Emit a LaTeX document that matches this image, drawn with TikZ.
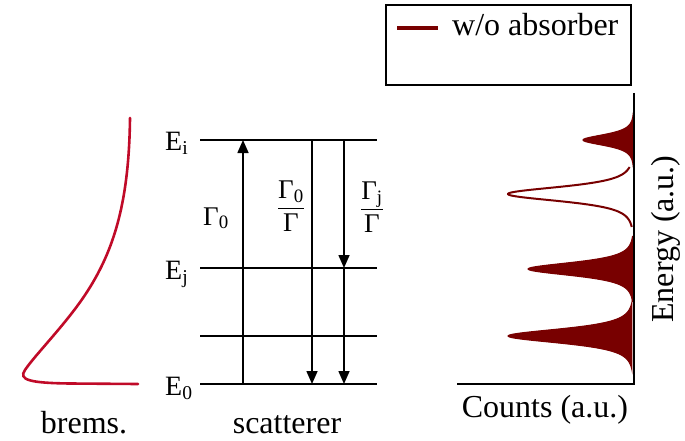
\documentclass[tikz,border=0pt]{standalone}
\usepackage{fontspec}
\setmainfont{Liberation Serif}
\usetikzlibrary{arrows.meta}
\definecolor{brem}{HTML}{C00A28}
\definecolor{spec}{HTML}{780000}
\newcommand{\gfrac}[2]{\setlength{\arrayrulewidth}{1.2pt}\renewcommand{\arraystretch}{1}\begin{tabular}{@{}c@{}}#1\\[0pt]\hline\rule{0pt}{22pt}#2\end{tabular}}
\begin{document}
\begin{tikzpicture}[x=1pt,y=-1pt,
  lbl/.style={font=\fontsize{32}{36}\selectfont, inner sep=0pt},
  elab/.style={font=\fontsize{28}{32}\selectfont, inner sep=0pt},
  glab/.style={font=\fontsize{27}{30}\selectfont, inner sep=0pt},
  level/.style={line width=1.3pt},
  trans/.style={line width=1.6pt,-{Triangle[length=13pt,width=11pt]}},
  peak/.style={fill=spec, draw=spec, line width=1pt},
  outl/.style={draw=spec, line width=2pt},
  axis/.style={line width=1.3pt},
  ]
\useasboundingbox (0,0) rectangle (685,441);

% brems curve
\draw[brem, line width=2.6pt, line cap=round] (130,118) .. controls (129,200) and (115,250) .. (85,295) .. controls (65,325) and (35,355) .. (25,370) .. controls (18,380) and (30,383) .. (70,383.5) -- (138,384);
\node[lbl, anchor=base] (brems) at (84,433) {brems.};

% energy levels
\coordinate (Li) at (200,140); \coordinate (Ri) at (377,140);
\coordinate (Lj) at (200,268); \coordinate (Rj) at (377,268);
\coordinate (Lk) at (200,336); \coordinate (Rk) at (377,336);
\coordinate (L0) at (200,384); \coordinate (R0) at (377,384);
\draw[level] (Li) -- (Ri);
\draw[level] (Lj) -- (Rj);
\draw[level] (Lk) -- (Rk);
\draw[level] (L0) -- (R0);

\node[elab, anchor=base west] (Ei) at (165,150) {E\textsubscript{i}};
\node[elab, anchor=base west] (Ej) at (165,279) {E\textsubscript{j}};
\node[elab, anchor=base west] (E0) at (165,395) {E\textsubscript{0}};

% transitions
\coordinate (a0) at (243,384); \coordinate (ai) at (243,140);
\coordinate (bi) at (312,140); \coordinate (b0) at (312,384);
\coordinate (ci) at (344,140); \coordinate (cj) at (344,268); \coordinate (c0) at (344,384);
\draw[trans] (a0) -- (ai);
\draw[trans] (bi) -- (b0);
\draw[trans] (ci) -- (cj);
\draw[trans] (cj) -- (c0);

\node[glab, anchor=base west] (g0) at (203,225) {Γ\textsubscript{0}};
\node[glab] (g1) at (291,209) {\gfrac{Γ\textsubscript{0}}{Γ}};
\node[glab] (g2) at (372,210) {\gfrac{Γ\textsubscript{j}}{Γ}};

\node[lbl, anchor=base] (scat) at (287,433) {scatterer};

% spectrum
\fill[peak] plot[domain=-28:28, samples=113, smooth] ({634-51/(1+(\x/10)^2)^2}, {140+\x}) -- cycle;
\draw[outl] plot[domain=-27:33, samples=129, smooth] ({634-126/(1+(\x/13)^2)^2}, {194+\x});
\fill[peak] plot[domain=-33:33, samples=133, smooth] ({634-106/(1+(\x/12)^2)^2}, {269+\x}) -- cycle;
\fill[peak] plot[domain=-34:34, samples=137, smooth] ({634-126/(1+(\x/13)^2)^2}, {336+\x}) -- cycle;

\coordinate (ax1) at (634,93); \coordinate (ax0) at (634,384); \coordinate (ax2) at (457,384);
\draw[axis] (ax1) -- (ax0) -- (ax2);
\node[lbl, anchor=base] (counts) at (545,417) {Counts (a.u.)};
\node[lbl, anchor=base, rotate=90] (energy) at (673,239) {Energy (a.u.)};

% legend
\draw[line width=1.6pt] (386,5) rectangle (631,85);
\coordinate (l1) at (397,28); \coordinate (l2) at (438,28);
\draw[spec, line width=3.5pt] (l1) -- (l2);
\node[lbl, anchor=base west] (leg) at (452,36) {w/o absorber};
\end{tikzpicture}
\end{document}
